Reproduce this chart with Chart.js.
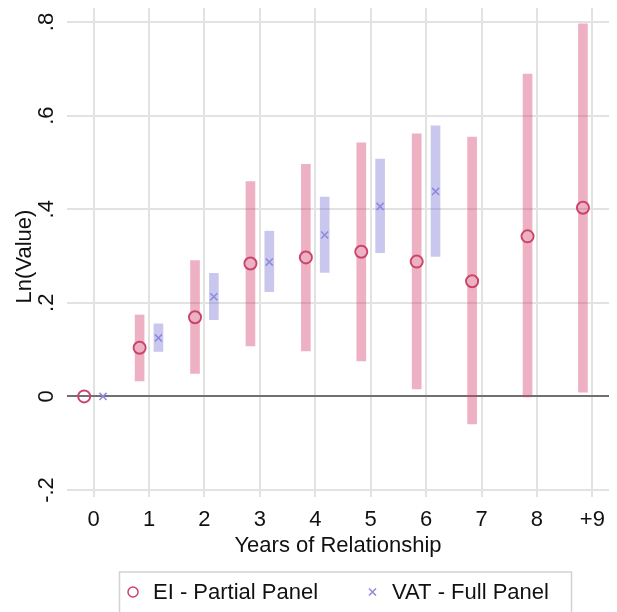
<!DOCTYPE html>
<html>
<head>
<meta charset="utf-8">
<script src="https://cdn.jsdelivr.net/npm/chart.js@4/dist/chart.umd.min.js"></script>
<style>
  html, body { margin: 0; padding: 0; background: #fff; }
</style>
</head>
<body>
<canvas id="chart" width="617" height="612"></canvas>
<script>
// years of relationship (9 = "+9")
const years = [0, 1, 2, 3, 4, 5, 6, 7, 8, 9];
const yearLabels = ['0', '1', '2', '3', '4', '5', '6', '7', '8', '+9'];

// EI - Partial Panel: estimate and confidence band
const eiValue = [0, 0.104, 0.169, 0.284, 0.297, 0.309, 0.288, 0.246, 0.342, 0.403];
const eiLow   = [null, 0.033, 0.049, 0.108, 0.097, 0.076, 0.016, -0.059, -0.001, 0.009];
const eiHigh  = [null, 0.174, 0.290, 0.459, 0.496, 0.542, 0.561, 0.554, 0.689, 0.796];

// VAT - Full Panel: estimate and confidence band
const vatYears = [0, 1, 2, 3, 4, 5, 6];
const vatValue = [0, 0.125, 0.213, 0.287, 0.345, 0.406, 0.438];
const vatLow   = [null, 0.096, 0.164, 0.224, 0.265, 0.307, 0.299];
const vatHigh  = [null, 0.155, 0.263, 0.353, 0.426, 0.507, 0.578];

const yTicks = [-0.2, 0, 0.2, 0.4, 0.6, 0.8];
const yTickLabels = ['-.2', '0', '.2', '.4', '.6', '.8'];

const shift = 0.17;
const font = '"Liberation Sans", Arial, Helvetica, sans-serif';
const pink = '#c9446b';
const pinkBar = 'rgba(211, 60, 105, 0.4)';
const blue = '#8d89dc';
const blueBar = 'rgba(120, 115, 210, 0.4)';

const band = (xs, lo, hi, dx) =>
    xs.map((x, i) => (lo[i] === null ? null : { x: x + dx, y: [lo[i], hi[i]] })).filter(Boolean);
const dots = (xs, vals, dx) => xs.map((x, i) => ({ x: x + dx, y: vals[i] }));

// rotated y tick labels, y title and the boxed legend, Stata style
const stataText = {
    id: 'stataText',
    afterDraw(chart) {
        const { ctx, chartArea, scales } = chart;
        ctx.save();
        ctx.fillStyle = '#111';
        ctx.font = '22px ' + font;
        ctx.textAlign = 'center';
        ctx.textBaseline = 'middle';
        yTicks.forEach((v, i) => {
            ctx.save();
            ctx.translate(47, scales.y.getPixelForValue(v));
            ctx.rotate(-Math.PI / 2);
            ctx.fillText(yTickLabels[i], 0, 0);
            ctx.restore();
        });
        ctx.save();
        ctx.translate(25, (chartArea.top + chartArea.bottom) / 2 + 4);
        ctx.rotate(-Math.PI / 2);
        ctx.fillText('Ln(Value)', 0, 0);
        ctx.restore();

        // legend
        ctx.strokeStyle = '#d2d2d2';
        ctx.lineWidth = 1.5;
        ctx.strokeRect(119.5, 572, 452, 60);
        const ly = 592;
        ctx.strokeStyle = pink;
        ctx.lineWidth = 1.5;
        ctx.beginPath();
        ctx.arc(133, ly, 5, 0, Math.PI * 2);
        ctx.stroke();
        ctx.strokeStyle = blue;
        ctx.beginPath();
        ctx.moveTo(369, ly - 3.5); ctx.lineTo(376, ly + 3.5);
        ctx.moveTo(376, ly - 3.5); ctx.lineTo(369, ly + 3.5);
        ctx.stroke();
        ctx.textAlign = 'left';
        ctx.fillText('EI - Partial Panel', 153, ly + 1);
        ctx.fillText('VAT - Full Panel', 392, ly + 1);
        ctx.restore();
    },
};

new Chart(document.getElementById('chart').getContext('2d'), {
    type: 'bar',
    data: {
        datasets: [
            {
                type: 'scatter',
                label: 'EI - Partial Panel',
                data: dots(years, eiValue, -shift),
                pointStyle: 'circle',
                pointRadius: 6,
                borderWidth: 2,
                borderColor: pink,
                backgroundColor: 'rgba(0,0,0,0)',
                order: 1,
            },
            {
                type: 'scatter',
                label: 'VAT - Full Panel',
                data: dots(vatYears, vatValue, shift),
                pointStyle: 'crossRot',
                pointRadius: 5,
                borderWidth: 1.5,
                borderColor: blue,
                backgroundColor: blue,
                order: 1,
            },
            {
                label: 'EI band',
                data: band(years, eiLow, eiHigh, -shift),
                backgroundColor: pinkBar,
                borderWidth: 0,
                barThickness: 9,
                grouped: false,
                order: 2,
            },
            {
                label: 'VAT band',
                data: band(vatYears, vatLow, vatHigh, shift),
                backgroundColor: blueBar,
                borderWidth: 0,
                barThickness: 9,
                grouped: false,
                order: 2,
            },
        ],
    },
    options: {
        responsive: false,
        animation: false,
        layout: { padding: { top: 6, left: 0, right: 0, bottom: 0 } },
        plugins: { legend: { display: false }, tooltip: { enabled: false } },
        scales: {
            x: {
                type: 'linear',
                min: -0.48,
                max: 9.3,
                offset: false,
                afterBuildTicks: (scale) => { scale.ticks = years.map((v) => ({ value: v })); },
                afterFit: (scale) => { scale.height = 115; },
                ticks: {
                    callback: (v) => yearLabels[years.indexOf(v)],
                    color: '#111',
                    font: { family: font, size: 22 },
                    padding: 10,
                    maxRotation: 0,
                    autoSkip: false,
                },
                grid: { offset: false, drawTicks: false, color: '#e2e2e2', lineWidth: 2 },
                border: { display: false },
                title: {
                    display: true,
                    text: 'Years of Relationship',
                    color: '#111',
                    font: { family: font, size: 22 },
                    padding: { top: 0, bottom: 53 },
                },
            },
            y: {
                min: -0.215,
                max: 0.83,
                afterBuildTicks: (scale) => { scale.ticks = yTicks.map((v) => ({ value: v })); },
                afterFit: (scale) => { scale.width = 67; },
                ticks: { display: false },
                grid: {
                    drawTicks: false,
                    color: (c) => (c.tick && c.tick.value === 0 ? '#707070' : '#e2e2e2'),
                    lineWidth: 2,
                },
                border: { display: false },
            },
        },
    },
    plugins: [stataText],
});
</script>
</body>
</html>
